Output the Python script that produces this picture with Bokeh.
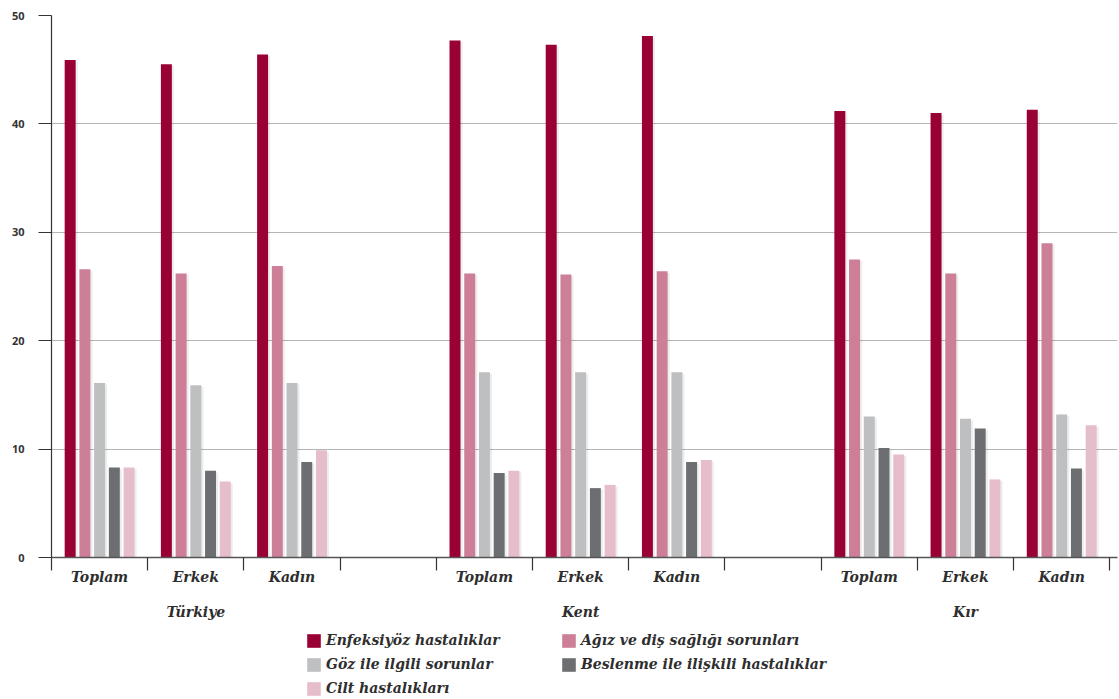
from bokeh.plotting import figure
from bokeh.layouts import column
from bokeh.models import (Range1d, FixedTicker, LinearAxis, Legend, LegendItem,
                          ColumnDataSource, Grid)
from bokeh.embed import file_html
from bokeh.resources import INLINE

groups = ["Türkiye", "Kent", "Kır"]
subgroups = ["Toplam", "Erkek", "Kadın"]
series_names = ["Enfeksiyöz hastalıklar", "Ağız ve diş sağlığı sorunları",
                "Göz ile ilgili sorunlar", "Beslenme ile ilişkili hastalıklar",
                "Cilt hastalıkları"]
colors = ["#990033", "#CC7F96", "#BEBFC1", "#6D6E71", "#E6BDCA"]

# values per (group, subgroup): Türkiye T/E/K, Kent T/E/K, Kır T/E/K
enfeksiyoz = [45.9, 45.5, 46.4, 47.7, 47.3, 48.1, 41.2, 41.0, 41.3]
agiz_dis = [26.6, 26.2, 26.9, 26.2, 26.1, 26.4, 27.5, 26.2, 29.0]
goz = [16.1, 15.9, 16.1, 17.1, 17.1, 17.1, 13.0, 12.8, 13.2]
beslenme = [8.3, 8.0, 8.8, 7.8, 6.4, 8.8, 10.1, 11.9, 8.2]
cilt = [8.3, 7.0, 9.9, 8.0, 6.7, 9.0, 9.5, 7.2, 12.2]
series = [enfeksiyoz, agiz_dis, goz, beslenme, cilt]

y_ticks = [0, 10, 20, 30, 40, 50]

FONT = "DejaVu Serif"
FSTYLE = "bold italic"
FSIZE = "14px"
TXT = "#2e2e2e"

# slot index for each category (one empty slot between groups)
slots = []
for gi in range(len(groups)):
    for si in range(len(subgroups)):
        slots.append(gi * (len(subgroups) + 1) + si)
n_slots = len(groups) * (len(subgroups) + 1) - 1

p = figure(width=1119, height=626, output_backend="svg", toolbar_location=None,
           x_range=Range1d(0, 11.08), y_range=Range1d(0, 50),
           min_border_left=51, min_border_right=2, min_border_top=15,
           min_border_bottom=69, x_axis_type=None, y_axis_type=None)
p.outline_line_color = None
p.background_fill_color = "white"
p.border_fill_color = "white"
p.ygrid.grid_line_color = None
p.xgrid.grid_line_color = None

grid = Grid(dimension=1, ticker=FixedTicker(ticks=y_ticks[1:]),
            grid_line_color="#B5B5B5", grid_line_width=1)
p.add_layout(grid)

step = 0.153
width = 0.114
for k, vals in enumerate(series):
    xs = [s + 0.5 + (k - 2) * step for s in slots]
    src = ColumnDataSource(dict(x=xs, top=vals))
    # soft shadow
    p.vbar(x=[x + 0.028 for x in xs], top=[v - 0.15 for v in vals], width=width * 0.9,
           bottom=0, fill_color="#000000", fill_alpha=0.07, line_color=None)
    p.vbar(x="x", top="top", width=width, bottom=0, source=src,
           fill_color=colors[k], line_color=None)

# y axis
yax = LinearAxis(ticker=FixedTicker(ticks=y_ticks))
yax.axis_line_color = "#333333"
yax.axis_line_width = 1.2
yax.major_tick_out = 13
yax.major_tick_in = 0
yax.major_tick_line_color = "#333333"
yax.major_tick_line_width = 1.2
yax.minor_tick_line_color = None
yax.major_label_standoff = 14
yax.major_label_text_font = "Open Sans"
yax.major_label_text_font_style = "bold"
yax.major_label_text_font_size = "11px"
yax.major_label_text_color = "#333333"
p.add_layout(yax, "left")

# x axis: category labels with ticks at slot boundaries
centers = [s + 0.5 for s in slots]
xax = LinearAxis(ticker=FixedTicker(ticks=centers, minor_ticks=list(range(n_slots + 1))))
xax.major_label_overrides = {c: subgroups[i % 3] for i, c in enumerate(centers)}
xax.axis_line_color = "#555555"
xax.axis_line_width = 1.5
xax.major_tick_out = 0
xax.major_tick_in = 0
xax.minor_tick_out = 13
xax.minor_tick_in = 0
xax.minor_tick_line_color = "#333333"
xax.minor_tick_line_width = 1.2
xax.major_label_standoff = -2
xax.major_label_text_font = FONT
xax.major_label_text_font_style = FSTYLE
xax.major_label_text_font_size = FSIZE
xax.major_label_text_color = TXT
p.add_layout(xax, "below")

gcenters = [gi * (len(subgroups) + 1) + 1.5 for gi in range(len(groups))]
gax = LinearAxis(ticker=FixedTicker(ticks=gcenters))
gax.major_label_overrides = {c: groups[i] for i, c in enumerate(gcenters)}
gax.axis_line_color = None
gax.major_tick_line_color = None
gax.minor_tick_line_color = None
gax.major_tick_out = 0
gax.major_tick_in = 0
gax.major_label_standoff = 16
gax.major_label_text_font = FONT
gax.major_label_text_font_style = FSTYLE
gax.major_label_text_font_size = FSIZE
gax.major_label_text_color = TXT
p.add_layout(gax, "below")

# legend in its own strip below the chart
lf = figure(width=1119, height=73, output_backend="svg", toolbar_location=None,
            x_range=Range1d(0, 1), y_range=Range1d(0, 1),
            min_border_left=51, min_border_right=2, min_border_top=0,
            min_border_bottom=0, x_axis_type=None, y_axis_type=None)
lf.outline_line_color = None
lf.xgrid.grid_line_color = None
lf.ygrid.grid_line_color = None
leg_renderers = []
for k in range(len(series_names)):
    # zero-height proxy bars: only used to draw the legend swatches
    leg_renderers.append(lf.vbar(x=[0.5], top=[0], bottom=[0], width=0.0,
                                 fill_color=colors[k], line_color=None))

items = [LegendItem(label=series_names[k], renderers=[leg_renderers[k]])
         for k in range(len(series_names))]
legend = Legend(items=items, ncols=2, location=(254, 1))
legend.orientation = "horizontal"
legend.border_line_color = None
legend.background_fill_alpha = 0
legend.label_text_font = FONT
legend.label_text_font_style = FSTYLE
legend.label_text_font_size = FSIZE
legend.label_text_color = TXT
legend.glyph_width = 17
legend.glyph_height = 17
legend.label_standoff = 4
legend.label_width = 230
legend.label_height = 20
legend.spacing = 4
legend.padding = 2
legend.margin = 0
lf.add_layout(legend, "center")

layout = column(p, lf, spacing=0)
open("out.html", "w").write(file_html(layout, INLINE))
